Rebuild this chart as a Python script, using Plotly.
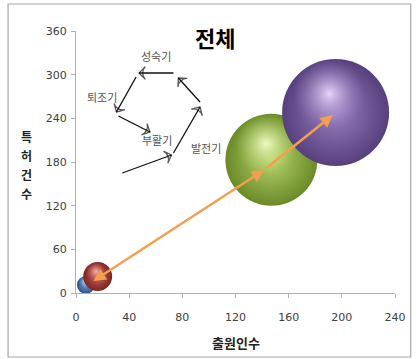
import plotly.graph_objects as go

# Bubble data: applicants (x), patents (y), bubble weight (area)
periods = ["구간1", "구간2", "구간3", "구간4"]
applicants = [7.4, 16.3, 147.0, 195.3]
patents = [11.0, 22.7, 183.0, 248.0]
weights = [32, 84, 850, 1150]
edge_colors = ["#2e5286", "#7a2522", "#6a8a28", "#56407c"]
center_colors = ["#6a98d6", "#cc605a", "#b6d46c", "#9a7ec0"]
shine_colors = ["#c4dcf8", "#f4b4ac", "#eefac4", "#e6d4f8"]

# Trend arrows (orange) joining the bubbles
trend_x = [11.9, 141.5, 193.3]
trend_y = [15.1, 169.0, 244.6]

# Technology life-cycle sketch: arrow start/end points and stage labels
cycle_x0 = [34.8, 73.3, 93.3, 73.3, 45.2, 31.9]
cycle_y0 = [164.9, 192.4, 262.4, 302.3, 296.8, 243.2]
cycle_x1 = [71.9, 93.3, 77.0, 47.4, 30.4, 55.6]
cycle_y1 = [189.6, 255.6, 295.4, 302.3, 248.7, 221.2]
stage_names = ["성숙기", "퇴조기", "부활기", "발전기"]
stage_x = [60.0, 19.3, 60.7, 97.8]
stage_y = [325.6, 269.3, 210.2, 199.2]

x_ticks = [0, 40, 80, 120, 160, 200, 240]
y_ticks = [0, 60, 120, 180, 240, 300, 360]
x_range = [0, 240]
y_range = [0, 360]

# plot area size in pixels (figure size minus margins)
W, H = 418, 359
ML, MR, MT, MB = 76, 18, 31, 66
plot_w, plot_h = W - ML - MR, H - MT - MB
px_per_x = plot_w / (x_range[1] - x_range[0])
px_per_y = plot_h / (y_range[1] - y_range[0])

max_diameter = 107
sizeref = 2.0 * max(weights) / (max_diameter ** 2)


def hex_to_rgba(h, a):
    h = h.lstrip("#")
    return "rgba(%d,%d,%d,%s)" % (int(h[0:2], 16), int(h[2:4], 16), int(h[4:6], 16), a)


fig = go.Figure()
for i in range(len(periods)):
    # sphere body
    fig.add_trace(go.Scatter(
        x=[applicants[i]], y=[patents[i]], mode="markers", name=periods[i],
        cliponaxis=False,
        marker=dict(size=[weights[i]], sizemode="area", sizeref=sizeref, opacity=1,
                    color=edge_colors[i], line=dict(width=0),
                    gradient=dict(type="radial", color=center_colors[i])),
        hoverinfo="skip",
    ))
    # soft specular highlight, shifted towards the upper left of the sphere
    radius_px = max_diameter / 2 * (weights[i] / max(weights)) ** 0.5
    fig.add_trace(go.Scatter(
        x=[applicants[i] - 0.12 * radius_px / px_per_x],
        y=[patents[i] + 0.35 * radius_px / px_per_y],
        mode="markers", cliponaxis=False, showlegend=False, hoverinfo="skip",
        marker=dict(size=[weights[i] * 0.45], sizemode="area", sizeref=sizeref, opacity=1,
                    color=hex_to_rgba(center_colors[i], 0), line=dict(width=0),
                    gradient=dict(type="radial", color=shine_colors[i])),
    ))

# black cycle arrows with open heads
for i in range(len(cycle_x0)):
    fig.add_trace(go.Scatter(
        x=[cycle_x0[i], cycle_x1[i]], y=[cycle_y0[i], cycle_y1[i]],
        mode="lines+markers", showlegend=False, hoverinfo="skip", cliponaxis=False,
        line=dict(color="#111111", width=1.3, backoff=0),
        marker=dict(symbol="arrow-wide-open", size=[0, 9], angleref="previous",
                    color="#111111", line=dict(color="#111111", width=1.3)),
    ))

for name, sx, sy in zip(stage_names, stage_x, stage_y):
    fig.add_annotation(x=sx, y=sy, xref="x", yref="y", text=name, showarrow=False,
                       xanchor="center", yanchor="middle",
                       font=dict(family="Noto Sans CJK KR", size=11, color="#555555"))

# orange trend arrows
for i in range(len(trend_x) - 1):
    fig.add_annotation(
        x=trend_x[i + 1], y=trend_y[i + 1], ax=trend_x[i], ay=trend_y[i],
        xref="x", yref="y", axref="x", ayref="y", text="",
        showarrow=True, arrowhead=2, arrowsize=1.0, arrowwidth=2.5,
        arrowside="end+start" if i == 0 else "end",
        arrowcolor="#f2a050", standoff=0, startstandoff=0,
    )

# title and axis titles
fig.add_annotation(x=(217 - ML) / plot_w, y=(H - MB - 37) / plot_h, xref="paper", yref="paper",
                   text="<b>전체</b>", showarrow=False, xanchor="center", yanchor="middle",
                   font=dict(family="Noto Sans CJK KR", size=22, color="#000000"))
fig.add_annotation(x=0.5, y=(H - MB - 342) / plot_h, xref="paper", yref="paper",
                   text="<b>출원인수</b>", showarrow=False, xanchor="center", yanchor="middle",
                   font=dict(family="Noto Sans CJK KR", size=13, color="#222222"))
y_title = "특허건수"
for k, ch in enumerate(y_title):
    fig.add_annotation(x=(26 - ML) / plot_w, y=(H - MB - (136.5 + 19 * k)) / plot_h,
                       xref="paper", yref="paper", text="<b>" + ch + "</b>", showarrow=False,
                       xanchor="center", yanchor="middle",
                       font=dict(family="Noto Sans CJK KR", size=12, color="#222222"))

# outer chart frame
fig.add_shape(type="rect", xref="paper", yref="paper",
              x0=(7 - ML) / plot_w, x1=(416 - ML) / plot_w,
              y0=(H - MB - 357) / plot_h, y1=(H - MB - 4) / plot_h,
              line=dict(color="#a6a6a6", width=1.2), fillcolor="rgba(0,0,0,0)", layer="below")

axis_common = dict(showgrid=False, zeroline=False, showline=True, linecolor="#b0b0b0", linewidth=1,
                   ticks="outside", ticklen=4, tickcolor="#b0b0b0",
                   tickfont=dict(family="DejaVu Sans", size=11, color="#404040"))
fig.update_xaxes(range=x_range, tickvals=x_ticks, ticklabelstandoff=10, **axis_common)
fig.update_yaxes(range=y_range, tickvals=y_ticks, ticklabelstandoff=2, **axis_common)

fig.update_layout(
    width=W, height=H, showlegend=False,
    margin=dict(l=ML, r=MR, t=MT, b=MB),
    paper_bgcolor="white", plot_bgcolor="white",
)

fig.write_html("out.html")
